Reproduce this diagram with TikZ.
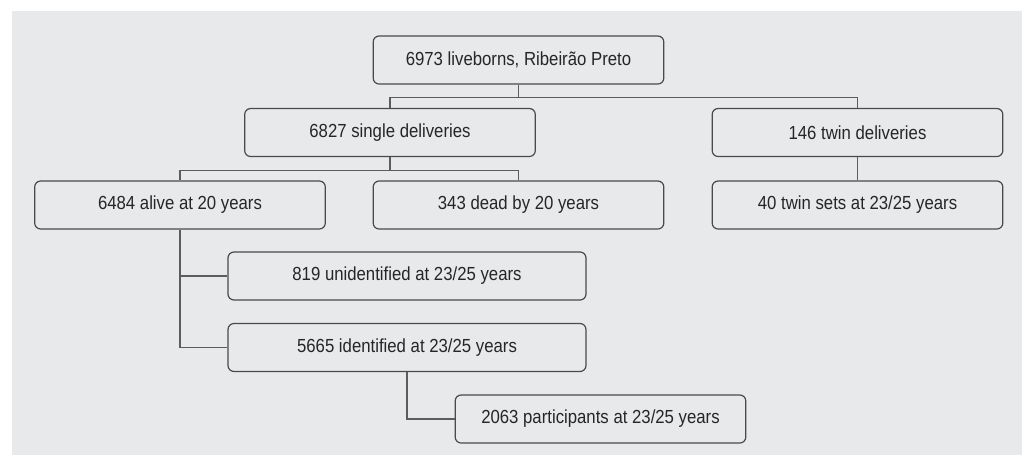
\documentclass[tikz,border=0pt]{standalone}
\usepackage{fontspec}
\setmainfont{Liberation Sans}[FakeStretch=0.885]
\usetikzlibrary{positioning}
\definecolor{panelgray}{HTML}{E8E9EB}
\definecolor{linegray}{HTML}{4A4A4A}

\begin{document}
\begin{tikzpicture}[x=0.75pt,y=-0.75pt,
	every node/.style={shape=rectangle,draw=linegray,line width=0.9pt,rounded
	corners=4.5pt,minimum height=36pt,minimum width=218pt,text=black!85,
	font=\fontsize{14.2}{17}\selectfont},
	wide/.style={minimum width=268.5pt},
	link/.style={draw=linegray!90,line width=0.8pt}]
	% background panel
	\useasboundingbox (0,0) rectangle (1022,455);
	\fill[panelgray] (12,11) rectangle (1022,455);

	% create the nodes.
	\node (liveborns) at (518.5,60) {6973 liveborns, Ribeirão Preto};
	\node (single) at (390,132.5) {6827 single deliveries};
	\node (twin) at (857.5,132.5) {146 twin deliveries};
	\node (alive) at (180,205) {6484 alive at 20 years};
	\node (dead) at (518.5,205) {343 dead by 20 years};
	\node (twinsets) at (857.5,205) {40 twin sets at 23/25 years};
	\node (unident) [wide] at (407,276) {819 unidentified at 23/25 years};
	\node (ident) [wide] at (407,347.5) {5665 identified at 23/25 years};
	\node (part) at (600.5,419) {2063 participants at 23/25 years};

	% connect the nodes
	\draw[link] (liveborns.south) -- ++(0,13) coordinate (split1);
	\draw[link] (split1) -| (single.north);
	\draw[link] (split1) -| (twin.north);
	\draw[link] (single.south) -- ++(0,13) coordinate (split2);
	\draw[link] (split2) -| (alive.north);
	\draw[link] (split2) -| (dead.north);
	\draw[link] (twin) -- (twinsets);
	\draw[link] (alive.south) |- (unident.west);
	\draw[link] (alive.south) |- (ident.west);
	\draw[link] (ident.south) |- (part.west);
\end{tikzpicture}
\end{document}
